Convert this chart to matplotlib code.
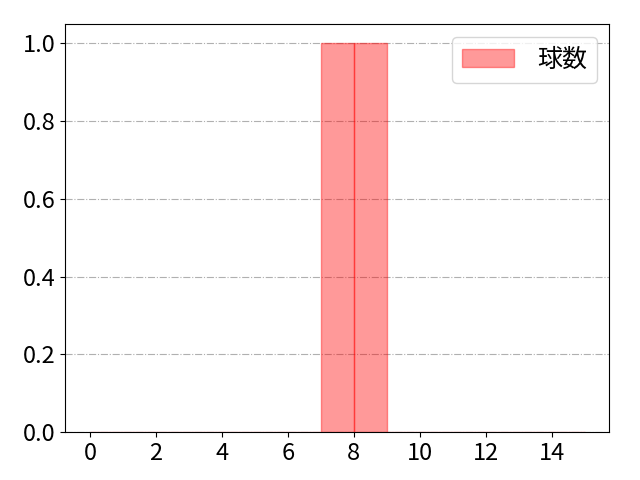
import matplotlib
matplotlib.use("Agg")
import matplotlib.pyplot as plt
import numpy as np

plt.rcParams['font.family'] = ['Noto Sans CJK JP', 'DejaVu Sans']
plt.rcParams['font.size'] = 17

# pitch count per bin
bins = list(range(15))
counts = [0, 0, 0, 0, 0, 0, 0, 1, 1, 0, 0, 0, 0, 0, 0]

fig, ax = plt.subplots(figsize=(6.4, 4.8), dpi=100)
ax.bar(bins, counts, width=1, align='edge', color='red', alpha=0.4,
       edgecolor='red', linewidth=1, label='球数')

ax.set_xticks(np.arange(0, 15, 2))
ax.grid(axis='y', linestyle='-.', color='#b0b0b0', linewidth=0.8)
ax.set_axisbelow(True)
ax.legend(loc='upper right', fontsize=18, handlelength=2.1, handletextpad=0.9)

fig.subplots_adjust(left=0.102, right=0.952, top=0.95, bottom=0.1)
plt.savefig('out.png')
